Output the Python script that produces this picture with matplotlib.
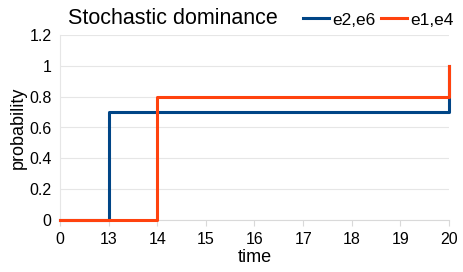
import matplotlib
matplotlib.use('Agg')
import matplotlib.pyplot as plt

plt.rcParams['font.family'] = ['Liberation Sans', 'DejaVu Sans']

categories = ['0', '13', '14', '15', '16', '17', '18', '19', '20']
e2_e6 = [0, 0.7, 0.7, 0.7, 0.7, 0.7, 0.7, 0.7, 1]
e1_e4 = [0, 0, 0.8, 0.8, 0.8, 0.8, 0.8, 0.8, 1]
y_ticks = [0, 0.2, 0.4, 0.6, 0.8, 1, 1.2]
y_ticklabels = ['0', '0.2', '0.4', '0.6', '0.8', '1', '1.2']

fig = plt.figure(figsize=(4.63, 2.72), dpi=100)
ax = fig.add_axes([60 / 463, 1 - 220 / 272, (449 - 60) / 463, (220 - 35) / 272])

x = list(range(len(categories)))
ax.plot(x, e2_e6, drawstyle='steps-post', color='#004586', lw=2.2, label='e2,e6', clip_on=False, zorder=3)
ax.plot(x, e1_e4, drawstyle='steps-post', color='#ff420e', lw=2.2, label='e1,e4', clip_on=False, zorder=4)

ax.set_xlim(0, len(categories) - 1)
ax.set_ylim(0, 1.2)
ax.set_xticks(x)
ax.set_xticklabels(categories)
ax.set_yticks(y_ticks)
ax.set_yticklabels(y_ticklabels)
ax.tick_params(axis='both', labelsize=11.5, colors='#000000')
ax.tick_params(axis='y', length=0, pad=6)
ax.tick_params(axis='x', length=4, color='#d9d9d9', pad=5)
ax.grid(axis='y', color='#e6e6e6', lw=0.8)
ax.set_axisbelow(True)
for s in ['top', 'right']:
    ax.spines[s].set_visible(False)
ax.spines['left'].set_color('#e6e6e6')
ax.spines['bottom'].set_color('#d9d9d9')

ax.set_xlabel('time', fontsize=13, labelpad=1)
ax.set_ylabel('probability', fontsize=13, labelpad=2)

fig.text(68 / 463, 1 - 19 / 272, 'Stochastic dominance', fontsize=15.5, va='center', ha='left')
fig.legend(loc='center right', bbox_to_anchor=(461 / 463, 1 - 20 / 272), ncol=2, frameon=False,
           fontsize=12.5, handlelength=1.5, handletextpad=0.2, columnspacing=0.3, borderaxespad=0)

fig.savefig('out.png', dpi=100)
